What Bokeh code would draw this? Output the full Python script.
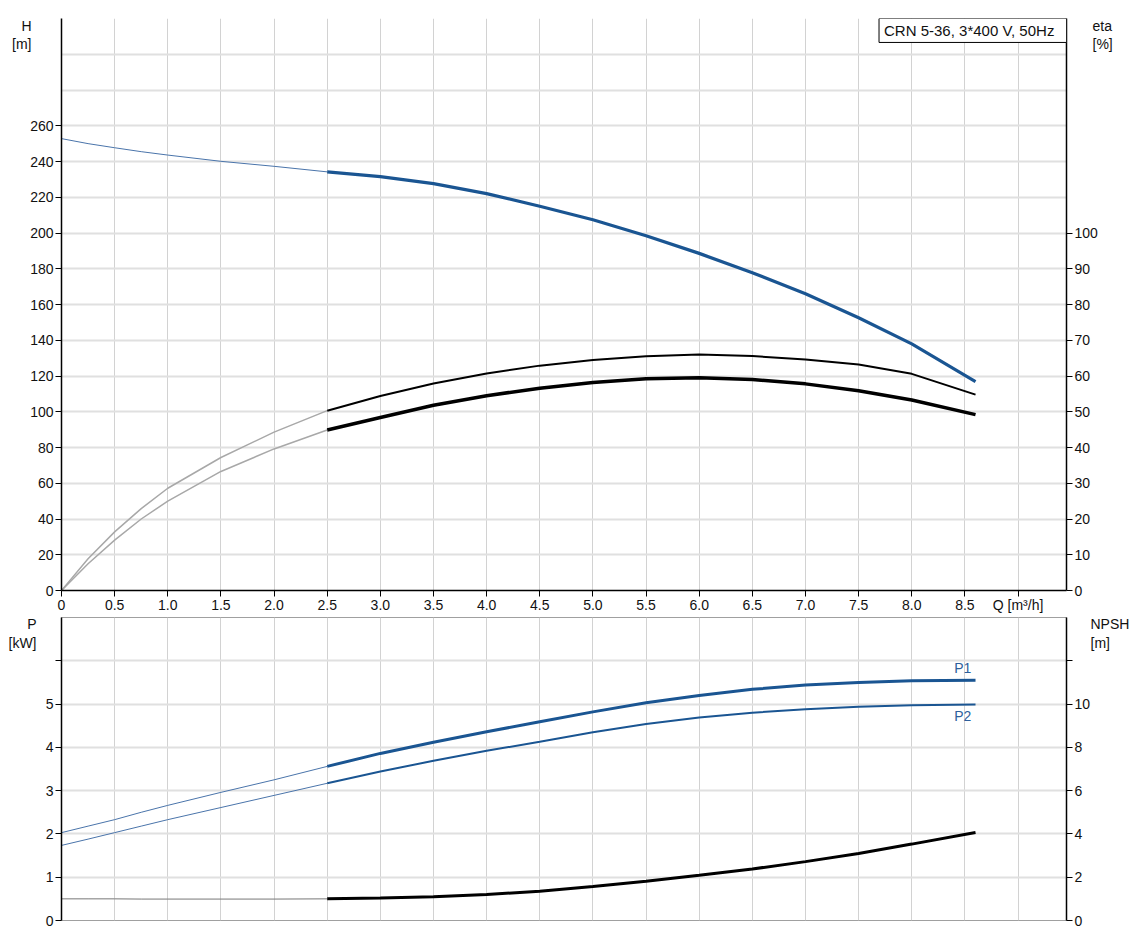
from bokeh.plotting import figure
from bokeh.models import Range1d, LinearAxis, FixedTicker, Label, BoxAnnotation
from bokeh.layouts import column
from bokeh.embed import file_html
from bokeh.resources import INLINE

# ---------------- data ----------------
Q = [0, 0.25, 0.5, 0.75, 1.0, 1.5, 2.0, 2.5, 3.0, 3.5, 4.0, 4.5, 5.0, 5.5, 6.0, 6.5, 7.0, 7.5, 8.0, 8.6]
H = [252.8, 250.0, 247.7, 245.5, 243.6, 240.1, 237.3, 234.2, 231.5, 227.6, 222.0, 215.0, 207.4,
     198.5, 188.6, 177.8, 166.0, 152.6, 138.0, 116.9]
ETA_1 = [0, 8.9, 16.4, 22.9, 28.6, 37.2, 44.3, 50.3, 54.4, 57.9, 60.7, 62.9, 64.5, 65.5, 66.0,
         65.6, 64.6, 63.2, 60.6, 54.8]
ETA_2 = [0, 7.5, 14.1, 20.0, 25.0, 33.3, 39.6, 44.9, 48.4, 51.8, 54.5, 56.6, 58.2, 59.2, 59.5,
         59.0, 57.8, 55.9, 53.3, 49.2]
P1 = [2.03, 2.18, 2.33, 2.50, 2.66, 2.96, 3.25, 3.56, 3.86, 4.12, 4.36, 4.59, 4.82, 5.03, 5.20,
      5.34, 5.44, 5.50, 5.54, 5.55]
P2 = [1.735, 1.88, 2.03, 2.18, 2.33, 2.61, 2.89, 3.17, 3.44, 3.69, 3.92, 4.13, 4.35, 4.54, 4.69,
      4.80, 4.88, 4.94, 4.97, 4.99]
NPSH = [1.0, 1.0, 1.0, 0.99, 0.99, 0.99, 0.99, 1.0, 1.04, 1.10, 1.20, 1.35, 1.57, 1.81, 2.09,
        2.38, 2.72, 3.10, 3.53, 4.07]
Q_SPLIT = 2.5

Q_TICKS = [0, 0.5, 1.0, 1.5, 2.0, 2.5, 3.0, 3.5, 4.0, 4.5, 5.0, 5.5, 6.0, 6.5, 7.0, 7.5, 8.0, 8.5, 9.0]
Q_TICK_LABELS = ["0", "0.5", "1.0", "1.5", "2.0", "2.5", "3.0", "3.5", "4.0", "4.5", "5.0", "5.5",
                 "6.0", "6.5", "7.0", "7.5", "8.0", "8.5", "Q [m³/h]"]
H_TICKS = [0, 20, 40, 60, 80, 100, 120, 140, 160, 180, 200, 220, 240, 260]
H_GRID = [0, 20, 40, 60, 80, 100, 120, 140, 160, 180, 200, 220, 240, 260, 280, 300, 320]
ETA_TICKS = [0, 10, 20, 30, 40, 50, 60, 70, 80, 90, 100]
P_TICKS = [0, 1, 2, 3, 4, 5, 6]
P_TICK_LABELS = ["0", "1", "2", "3", "4", "5", ""]
P_GRID = [0, 1, 2, 3, 4, 5, 6, 7]
NPSH_TICKS = [0, 2, 4, 6, 8, 10, 12]
NPSH_TICK_LABELS = ["0", "2", "4", "6", "8", "10", ""]
TITLE = "CRN 5-36, 3*400 V, 50Hz"
H_TITLE = ["H", "[m]"]
ETA_TITLE = ["eta", "[%]"]
P_TITLE = ["P", "[kW]"]
NPSH_TITLE = ["NPSH", "[m]"]

# ---------------- style ----------------
FONT = "Liberation Sans"
FS = "14px"
BLUE = "#1a5592"
BLUE_THIN = "#4a74aa"
GREY_THIN = "#a8a8a8"
X_END = 9.456

i = Q.index(Q_SPLIT)


def style_axis(ax, color="black"):
    ax.axis_line_color = color
    ax.axis_line_width = 1.5
    ax.major_tick_line_color = color
    ax.major_tick_out = 6
    ax.major_tick_in = 0
    ax.minor_tick_line_color = None
    ax.major_label_text_font = FONT
    ax.major_label_text_font_size = FS
    ax.major_label_text_color = "#111111"
    ax.major_label_standoff = 2


def title_axis(p, side, positions, texts, standoff, y_range_name="default"):
    ax = LinearAxis(y_range_name=y_range_name, ticker=FixedTicker(ticks=positions))
    ax.major_label_overrides = {t: s for t, s in zip(positions, texts)}
    ax.axis_line_color = None
    ax.major_tick_line_color = None
    ax.minor_tick_line_color = None
    ax.major_tick_out = 0
    ax.major_tick_in = 0
    ax.major_label_standoff = standoff
    ax.major_label_text_font = FONT
    ax.major_label_text_font_size = FS
    ax.major_label_text_color = "#111111"
    p.add_layout(ax, side)


# ---------------- top figure ----------------
top = figure(frame_width=1005, frame_height=572, output_backend="svg", toolbar_location=None,
             x_range=Range1d(0, X_END), y_range=Range1d(0, 320),
             min_border_left=61, min_border_right=65, min_border_top=18, min_border_bottom=20)
top.outline_line_color = None
top.extra_y_ranges = {"eta": Range1d(0, 160)}

top.xaxis.ticker = FixedTicker(ticks=Q_TICKS)
top.xaxis.major_label_overrides = {t: l for t, l in zip(Q_TICKS, Q_TICK_LABELS)}
top.yaxis.ticker = FixedTicker(ticks=H_TICKS)
style_axis(top.xaxis[0])
top.xaxis.major_label_standoff = 0
style_axis(top.yaxis[0])
eta_axis = LinearAxis(y_range_name="eta", ticker=FixedTicker(ticks=ETA_TICKS))
style_axis(eta_axis)
top.add_layout(eta_axis, "right")
title_axis(top, "left", [316, 306], H_TITLE, -4)
title_axis(top, "right", [158, 153], ETA_TITLE, -8, y_range_name="eta")

top.xgrid.ticker = FixedTicker(ticks=Q_TICKS)
top.ygrid.ticker = FixedTicker(ticks=H_GRID)
top.xgrid.grid_line_color = "#d2d2d2"
top.xgrid.grid_line_width = 1
top.ygrid.grid_line_color = "#e0e0e0"
top.ygrid.grid_line_width = 2

top.line(Q[:i + 1], H[:i + 1], line_color=BLUE_THIN, line_width=1)
top.line(Q[i:], H[i:], line_color=BLUE, line_width=3.2)
top.line(Q[:i + 1], ETA_1[:i + 1], y_range_name="eta", line_color=GREY_THIN, line_width=1.5)
top.line(Q[:i + 1], ETA_2[:i + 1], y_range_name="eta", line_color=GREY_THIN, line_width=1.5)
top.line(Q[i:], ETA_1[i:], y_range_name="eta", line_color="black", line_width=2)
top.line(Q[i:], ETA_2[i:], y_range_name="eta", line_color="black", line_width=3.5)

# title box
top.add_layout(BoxAnnotation(left=7.692, right=X_END, top=320, bottom=306.6,
                             fill_color="white", fill_alpha=1.0, line_color="black",
                             line_width=1, line_alpha=1.0))
top.add_layout(Label(x=7.739, y=313.3, text=TITLE, text_font=FONT, text_font_size="15px",
                     text_color="#111111", text_align="left", text_baseline="middle"))

# ---------------- bottom figure ----------------
bot = figure(frame_width=1005, frame_height=303, output_backend="svg", toolbar_location=None,
             x_range=top.x_range, y_range=Range1d(0, 7),
             min_border_left=61, min_border_right=65, min_border_top=2, min_border_bottom=8,
             x_axis_location=None)
bot.outline_line_color = "#a0a0a0"
bot.extra_y_ranges = {"npsh": Range1d(0, 14)}
bot.yaxis.ticker = FixedTicker(ticks=P_TICKS)
bot.yaxis.major_label_overrides = {t: l for t, l in zip(P_TICKS, P_TICK_LABELS)}
style_axis(bot.yaxis[0])
npsh_axis = LinearAxis(y_range_name="npsh", ticker=FixedTicker(ticks=NPSH_TICKS))
npsh_axis.major_label_overrides = {t: l for t, l in zip(NPSH_TICKS, NPSH_TICK_LABELS)}
style_axis(npsh_axis)
bot.add_layout(npsh_axis, "right")
title_axis(bot, "left", [6.86, 6.42], P_TITLE, 6)
title_axis(bot, "right", [13.72, 12.84], NPSH_TITLE, -3, y_range_name="npsh")

bot.xgrid.ticker = FixedTicker(ticks=Q_TICKS)
bot.ygrid.ticker = FixedTicker(ticks=P_GRID)
bot.xgrid.grid_line_color = "#d2d2d2"
bot.xgrid.grid_line_width = 1
bot.ygrid.grid_line_color = "#e0e0e0"
bot.ygrid.grid_line_width = 2

bot.line(Q[:i + 1], P1[:i + 1], line_color=BLUE_THIN, line_width=1)
bot.line(Q[:i + 1], P2[:i + 1], line_color=BLUE_THIN, line_width=1)
bot.line(Q[i:], P1[i:], line_color=BLUE, line_width=3)
bot.line(Q[i:], P2[i:], line_color=BLUE, line_width=2)
bot.line(Q[:i + 1], NPSH[:i + 1], y_range_name="npsh", line_color="#777777", line_width=1)
bot.line(Q[i:], NPSH[i:], y_range_name="npsh", line_color="black", line_width=3)

for t, yy in (("P1", 5.83), ("P2", 4.72)):
    bot.add_layout(Label(x=8.48, y=yy, text=t, text_font=FONT, text_font_size=FS,
                         text_color="#2d5f9c", text_align="center", text_baseline="middle"))

layout = column(top, bot, spacing=0)
open("out.html", "w").write(file_html(layout, INLINE))
